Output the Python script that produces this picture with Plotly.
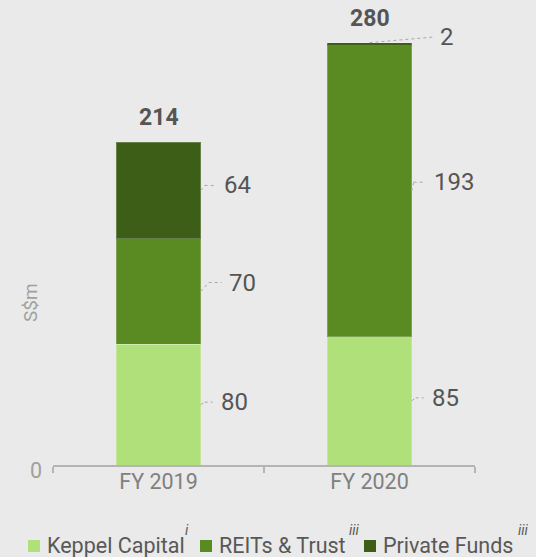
import plotly.graph_objects as go

years = ["FY 2019", "FY 2020"]
keppel_capital = [80, 85]
reits_trust = [70, 193]
private_funds = [64, 2]
series_names = ["Keppel Capital", "REITs & Trust", "Private Funds"]
series_notes = ["i", "iii", "iii"]
colors = ["#b0e07a", "#5a8a22", "#3c5e17"]

BG = "#e9eae9"
BAR_W = 0.4
Y_MAX = 295

# plot area in px
L, R, T, B = 53, 61, 20, 92
W, H = 536, 557
PW, PH = W - L - R, H - T - B
ux = 2 / PW           # category units per px
uy = Y_MAX / PH       # value units per px


def paper_x(px):
    return (px - L) / PW


def paper_y(py):
    return (H - B - py) / PH


# label nudges per (year, series): lift px, kink px, end px, label gap px
nudge = {
    (0, 0): (2.5, 4, 12, 18), (0, 1): (9, 8, 21, 26), (0, 2): (5, 4, 15, 21),
    (1, 0): (3, 4, 12, 18), (1, 1): (9, 2, 13, 20), (1, 2): (5.5, 0, 0, 0),
}

fig = go.Figure()
for name, vals, col in zip(series_names, [keppel_capital, reits_trust, private_funds], colors):
    fig.add_trace(go.Bar(
        x=years, y=vals, name=name, width=BAR_W,
        marker=dict(color=col, line=dict(color="rgba(255,255,255,0.22)", width=1)),
        hoverinfo="x+y",
    ))

annotations = []
shapes = []
dot = dict(color="#a8a8a8", width=1, dash="dot")
for i in range(len(years)):
    base = 0
    for s, vals in enumerate([keppel_capital, reits_trust, private_funds]):
        v = vals[i]
        mid = base + v / 2
        base += v
        lift, kink, end, gap = nudge[(i, s)]
        edge = i + BAR_W / 2
        if v < 10:
            # tiny segment: straight leader from the top of the bar
            x0, y0 = i, base
            x2 = edge + 21 * ux
            x1 = x2
            lx = edge + 26 * ux
        else:
            x0, y0 = edge, mid
            x1 = edge + kink * ux
            x2 = edge + end * ux
            lx = edge + gap * ux
        y1 = y0 + lift * uy
        shapes.append(dict(type="line", xref="x", yref="y", x0=x0, y0=y0, x1=x1, y1=y1, line=dot))
        if x2 > x1:
            shapes.append(dict(type="line", xref="x", yref="y", x0=x1, y0=y1, x1=x2, y1=y1, line=dot))
        annotations.append(dict(x=lx, y=y1, xref="x", yref="y", text=str(v), showarrow=False,
                                xanchor="left", yanchor="middle",
                                font=dict(size=24, color="#555555")))
    annotations.append(dict(x=i, y=base, xref="x", yref="y", text="<b>%d</b>" % base, showarrow=False,
                            xanchor="center", yanchor="bottom", yshift=9,
                            font=dict(size=23, color="#555555")))

# y axis title
annotations.append(dict(x=paper_x(30), y=paper_y(303), xref="paper", yref="paper", text="S$m",
                        showarrow=False, textangle=-90, xanchor="center", yanchor="middle",
                        font=dict(size=19, color="#a0a0a0")))

# legend drawn below the axis
legend_sq = [28, 200, 364]
legend_txt = [45, 217, 381]
legend_sup = [183, 347, 516]
for k in range(3):
    shapes.append(dict(type="rect", xref="paper", yref="paper",
                       x0=paper_x(legend_sq[k]), x1=paper_x(legend_sq[k] + 12),
                       y0=paper_y(552), y1=paper_y(540),
                       fillcolor=colors[k], line=dict(width=0)))
    annotations.append(dict(x=paper_x(legend_txt[k]), y=paper_y(545), xref="paper", yref="paper",
                            text=series_names[k], showarrow=False, xanchor="left", yanchor="middle",
                            font=dict(size=21.5, color="#585858")))
    annotations.append(dict(x=paper_x(legend_sup[k]), y=paper_y(530), xref="paper", yref="paper",
                            text="<i>%s</i>" % series_notes[k], showarrow=False,
                            xanchor="left", yanchor="middle",
                            font=dict(size=14, color="#585858")))

fig.update_layout(
    barmode="stack",
    width=W, height=H,
    margin=dict(l=L, r=R, t=T, b=B),
    paper_bgcolor=BG, plot_bgcolor=BG,
    font=dict(family="Roboto", color="#555555"),
    showlegend=False,
    annotations=annotations,
    shapes=shapes,
)
fig.update_xaxes(
    type="category", range=[-0.5, 1.5], tickson="boundaries", ticks="outside", ticklen=6,
    tickwidth=2, tickcolor="#b4b4b4", showline=True, linecolor="#b4b4b4", linewidth=2,
    showgrid=False, tickfont=dict(size=21.5, color="#808080"), ticklabelstandoff=-4,
)
fig.update_yaxes(
    range=[0, Y_MAX], tickvals=[0], showgrid=False, zeroline=False, showline=False,
    tickfont=dict(size=21.5, color="#a0a0a0"), ticklabelstandoff=10, ticklabelshift=5,
)

fig.write_html("out.html", config={"displayModeBar": False},
               post_script="document.body.style.margin='0';document.body.style.overflow='hidden';")
